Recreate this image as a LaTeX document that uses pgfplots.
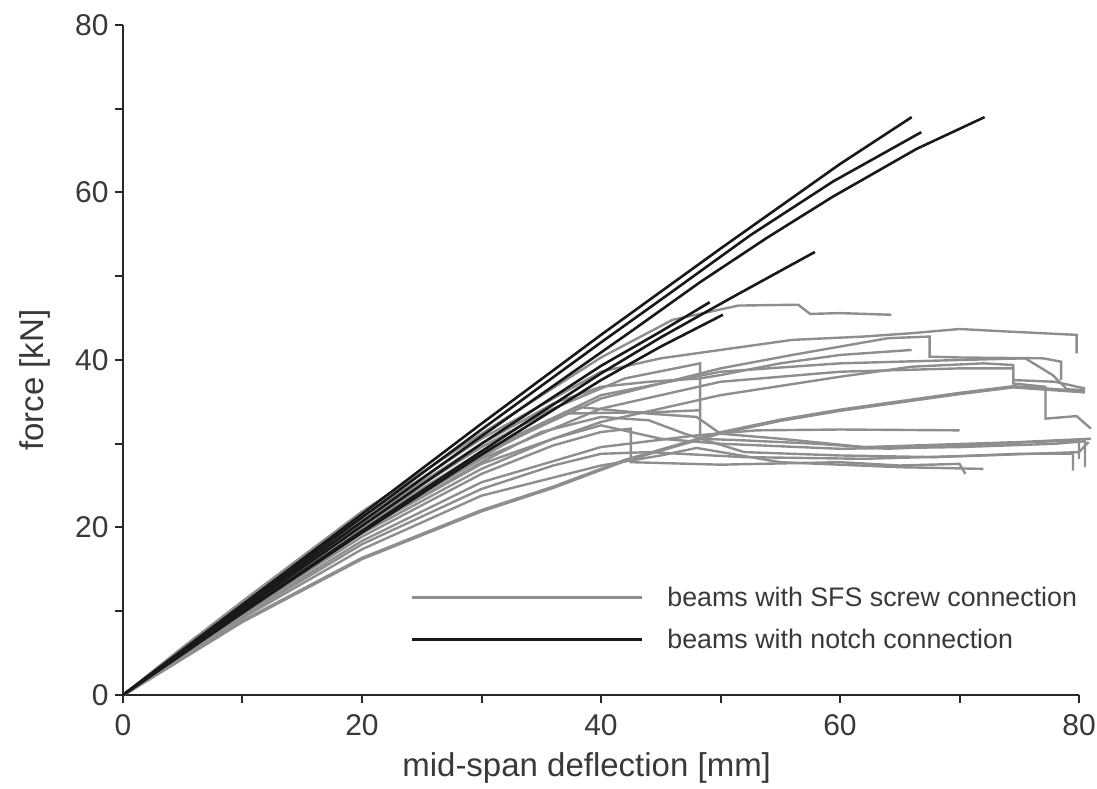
\documentclass[border=0pt]{standalone}
\usepackage{fontspec}
\setmainfont{Liberation Sans}
\usepackage{pgfplots}
\pgfplotsset{compat=1.18}
\definecolor{gr}{RGB}{142,142,142}
\definecolor{bk}{RGB}{25,25,25}
\definecolor{axc}{RGB}{40,40,40}
\definecolor{txt}{RGB}{60,56,56}
\begin{document}
\begin{tikzpicture}
\useasboundingbox (-123pt,-94pt) rectangle (974pt,695pt);
\begin{axis}[at={(0,0)}, anchor=south west, scale only axis, width=956pt, height=670pt,
 xmin=0,xmax=80,ymin=0,ymax=80, clip=false,
 axis lines=left, axis line style={-, axc, line width=2.2pt},
 xtick={0,20,...,80}, ytick={0,20,...,80}, minor tick num=1,
 tick align=outside, major tick length=8pt, minor tick length=8pt,
 tick style={axc, line width=2pt},
 tick label style={font=\fontsize{30}{34}\selectfont, text=txt},
 xticklabel style={yshift=-8pt},
 yticklabel style={xshift=-3pt},
 /pgf/number format/assume math mode=true,
 xlabel={mid-span deflection [mm]}, ylabel={force [kN]},
 label style={font=\fontsize{33}{38}\selectfont, text=txt},
 xlabel style={at={(axis description cs:0.485,-0.109)}, anchor=center},
 ylabel style={at={(axis description cs:-0.092,0.47)}, anchor=center},
 legend style={draw=none, fill=none, at={(axis cs:24,9.1)}, anchor=west, inner sep=0pt,
   /tikz/column sep=24pt, /tikz/row sep=21pt, font=\fontsize{26.8}{30}\selectfont, text=txt,
   nodes={inner sep=0pt}},
 legend cell align=left,
 legend image code/.code={\draw[#1] (0pt,0pt) -- (230pt,0pt);},
]
\addlegendimage{gr, line width=3pt}
\addlegendentry{beams with SFS screw connection}
\addlegendimage{bk, line width=3.4pt}
\addlegendentry{beams with notch connection}

% SFS screw connection beams (gray)
\addplot[gr, line width=2.4pt, forget plot] coordinates {(0,0)(5,5.7)(10,11.2)(20,21.9)(30,31.2)(40,40.3)(46,44.8)(51.5,46.5)(56.5,46.6)(57.5,45.5)(60,45.6)(64.3,45.4)};
\addplot[gr, line width=2.4pt, forget plot] coordinates {(0,0)(10,10.9)(20,21.2)(30,30.6)(40,38.6)(45,40.2)(50,41.2)(56,42.4)(62,42.8)(66,43.2)(70,43.7)(74,43.4)(79.8,43)(79.8,40.8)};
\addplot[gr, line width=2.4pt, forget plot] coordinates {(0,0)(10,10.6)(20,20.6)(30,29.6)(36,34.2)(42,37.8)(48.3,39.6)(48.3,30.6)(52,30.4)(58,30)(64,29.4)(70,29.8)(76,30.2)(80,30.4)(80,28.2)};
\addplot[gr, line width=2.4pt, forget plot] coordinates {(0,0)(10,10.4)(20,20.1)(30,28.8)(40,35.4)(50,39)(56,40.6)(60,41.6)(64,42.6)(67.5,42.8)(67.5,40.4)(70,40.3)(77,40.2)(78.5,39.8)(78.5,37.6)};
\addplot[gr, line width=2.4pt, forget plot] coordinates {(0,0)(10,10.2)(20,19.6)(30,27.6)(40,32.6)(50,35.8)(60,38)(66,39.2)(72,39.6)(74.5,39.4)(74.5,37.6)(78,37.4)(80.5,36.6)};
\addplot[gr, line width=3.6pt, forget plot] coordinates {(0,0)(10,8.8)(20,16.3)(30,22)(36,24.8)(42,28)(50,31.3)(55,32.8)(60,34)(65,35)(70,36)(74.5,36.8)(80.5,36.2)};
\addplot[gr, line width=2.4pt, forget plot] coordinates {(0,0)(10,10.5)(20,20.3)(30,29)(40,35.8)(50,38.6)(60,39.6)(70,40)(75.5,40.2)(77.8,38.2)(79,36.5)(80.5,36.4)};
\addplot[gr, line width=2.4pt, forget plot] coordinates {(0,0)(10,10.3)(20,19.9)(30,28.2)(40,34.2)(50,37.4)(60,38.6)(70,39)(74.5,39)(74.5,37.2)(77.2,36.8)(77.2,33)(79.8,33.3)(81,31.8)};
\addplot[gr, line width=2.4pt, forget plot] coordinates {(0,0)(10,9.6)(20,18.4)(30,25.4)(40,29.6)(48,31)(53,31.6)(60,31.7)(70,31.6)};
\addplot[gr, line width=2.4pt, forget plot] coordinates {(0,0)(10,9.8)(20,18.9)(30,26.4)(36,29.8)(40,31.4)(42.5,31.8)(42.5,27.8)(50,27.5)(60,27.8)(65,27.4)(70,27.6)(70.5,26.4)};
\addplot[gr, line width=2.4pt, forget plot] coordinates {(0,0)(10,10)(20,19.3)(30,27)(36,30.6)(40,32.2)(45,30.6)(50,30)(60,29.4)(70,29.6)(78,30)(80.5,30.3)(80.5,27.2)};
\addplot[gr, line width=2.4pt, forget plot] coordinates {(0,0)(10,10.1)(20,19.6)(30,27.8)(35,31.4)(40,33.2)(44,32.8)(47,31.2)(52,29)(60,28.6)(68,28.4)(75,28.8)(79.5,28.8)(79.5,26.8)};
\addplot[gr, line width=2.4pt, forget plot] coordinates {(0,0)(10,9.4)(20,18)(30,24.6)(36,27.4)(40,28.8)(44,29)(52,28.4)(62,28.2)(72,28.6)(80,29)(80.8,30.2)};
\addplot[gr, line width=2.4pt, forget plot] coordinates {(0,0)(10,10.2)(20,19.8)(30,28.4)(35,32.4)(38,34.4)(44,33.6)(48,33.2)(50,31.2)(55,30.6)(62,29.6)(75,30.2)(81,30.6)};
\addplot[gr, line width=2.4pt, forget plot] coordinates {(0,0)(10,10.7)(20,20.8)(30,30)(36,34.8)(40,36.8)(44,37.4)(48.3,37.8)(50,38.2)(55,39.6)(60,40.6)(66,41.2)};
\addplot[gr, line width=2.4pt, forget plot] coordinates {(0,0)(10,9.2)(20,17.4)(30,23.8)(40,27.4)(45,28.6)(48,29.5)(55,27.8)(65,27.2)(72,27)};
\addplot[gr, line width=2.4pt, forget plot] coordinates {(0,0)(10,10.4)(20,20.2)(30,28.6)(37,33.6)(45,33.8)(48.3,34)};

% notch connection beams (black)
\addplot[bk, line width=2.6pt, forget plot] coordinates {(0,0)(10,10.8)(20,21.6)(30,32.4)(40,43)(50,53.3)(60,63.4)(66,69)};
\addplot[bk, line width=2.6pt, forget plot] coordinates {(0,0)(10,10.6)(20,21.2)(30,31.7)(40,42.1)(45.5,47.7)(52.5,54.9)(59.4,61.3)(66.8,67.2)};
\addplot[bk, line width=2.6pt, forget plot] coordinates {(0,0)(10,10.4)(20,20.7)(30,30.9)(42.7,43.6)(48.3,49.3)(53.9,54.6)(59.4,59.5)(66.4,65.2)(72.1,69)};
\addplot[bk, line width=2.6pt, forget plot] coordinates {(0,0)(10,9.9)(20,19.6)(30,29.1)(40,38.4)(45,42.7)(51,47.5)(57.9,52.9)};
\addplot[bk, line width=2.6pt, forget plot] coordinates {(0,0)(10,10.2)(20,20.2)(30,30)(40,39.3)(45,43.4)(49.1,46.9)};
\addplot[bk, line width=2.6pt, forget plot] coordinates {(0,0)(10,9.8)(20,19.4)(30,28.7)(40,37.6)(45,41.6)(50.2,45.4)};
\end{axis}
\end{tikzpicture}
\end{document}
